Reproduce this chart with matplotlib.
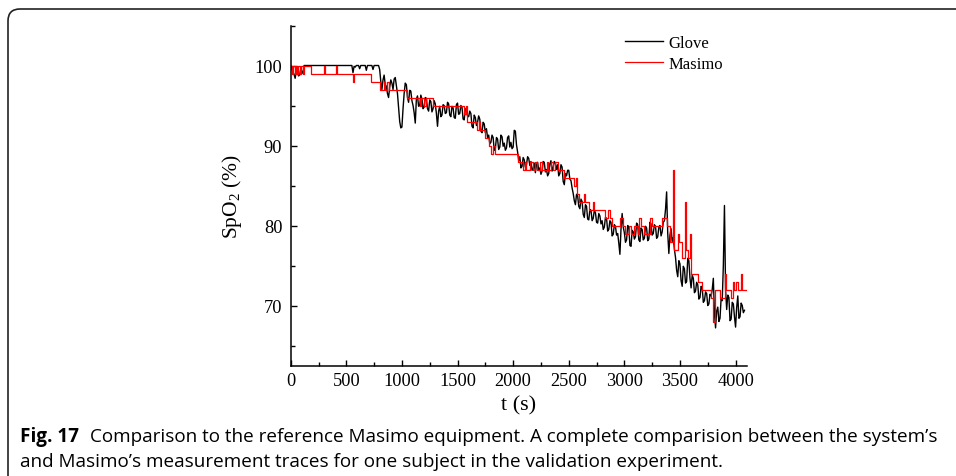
import numpy as np
import matplotlib
matplotlib.use("Agg")
import matplotlib.pyplot as plt
from matplotlib.patches import FancyBboxPatch
from matplotlib.transforms import IdentityTransform

# Glove trace, one reading every 10 s (0 .. 4080 s)
glove_step = 10
glove_spo2 = [
    100, 99.6, 99.2, 98.9, 98.4, 99.3, 99.6, 98.7, 98.8, 99.5, 99.3, 99.0, 100, 100, 100, 100, 100, 100, 100, 100,
    100, 100, 100, 100, 100, 100, 100, 100, 100, 100, 100, 100, 100, 100, 100, 100, 100, 100, 100, 100,
    100, 100, 100, 100, 100, 100, 100, 100, 100, 100, 100, 100, 100, 100, 100, 100, 99.1, 99.9, 99.8, 100,
    100, 100, 99.6, 100, 100, 100, 100, 100, 99.4, 100, 100, 100, 100, 100, 99.5, 100, 100, 100, 100, 100,
    99.5, 98.0, 97.0, 98.2, 98.8, 97.6, 97.4, 96.5, 96.0, 97.3, 98.2, 97.8, 97.0, 98.3, 98.5, 97.5, 96.5, 94.8, 93.0, 92.2,
    92.3, 94.6, 96.5, 97.8, 97.6, 96.0, 95.4, 96.9, 96.8, 95.6, 95.0, 94.1, 92.8, 95.8, 96.2, 94.9, 95.0, 96.3, 95.8, 94.6,
    94.8, 96.0, 95.9, 94.6, 94.3, 95.7, 95.5, 94.2, 94.6, 95.6, 95.2, 94.0, 92.4, 94.3, 94.9, 93.6, 93.8, 95.1, 95.0, 94.0,
    94.1, 95.4, 95.2, 93.8, 93.6, 94.9, 94.7, 93.5, 93.4, 95.1, 95.3, 93.9, 94.0, 95.0, 94.8, 93.3, 93.2, 94.6, 94.5, 93.7,
    93.6, 94.3, 94.0, 92.4, 92.2, 93.8, 93.5, 92.5, 92.9, 93.7, 93.3, 91.8, 91.6, 92.9, 92.7, 91.6, 92.1, 91.0, 91.3, 90.2,
    90.4, 91.3, 91.0, 89.4, 89.6, 91.0, 90.8, 89.5, 89.8, 91.3, 91.1, 89.9, 90.3, 89.4, 89.7, 91.0, 91.2, 89.8, 90.4, 89.6,
    89.8, 91.9, 91.8, 90.1, 89.2, 88.1, 88.6, 87.2, 87.4, 88.5, 88.2, 87.3, 87.6, 88.6, 88.4, 87.5, 88.0, 86.9, 87.1, 87.8,
    86.6, 87.6, 87.9, 86.9, 87.2, 86.4, 86.8, 88.0, 87.9, 86.7, 87.0, 86.2, 86.5, 87.7, 88.1, 86.8, 87.3, 88.0, 87.8, 87.0,
    87.6, 86.2, 86.5, 87.6, 87.3, 85.5, 85.1, 86.5, 86.2, 86.9, 86.9, 85.8, 85.6, 84.7, 84.0, 83.1, 82.6, 83.9, 83.7, 82.4,
    82.1, 83.3, 83.0, 81.4, 81.0, 82.6, 82.4, 80.8, 80.7, 82.0, 81.9, 80.6, 80.9, 81.9, 81.6, 80.4, 80.3, 81.5, 81.2, 80.2,
    80.6, 79.5, 79.8, 81.0, 80.9, 79.3, 79.5, 80.6, 80.4, 78.7, 78.9, 80.1, 79.9, 78.8, 79.0, 77.8, 76.4, 79.6, 81.5, 79.8,
    79.1, 77.9, 78.2, 80.0, 79.8, 77.5, 77.4, 79.4, 79.2, 78.3, 78.6, 80.3, 80.1, 78.2, 78.0, 79.7, 79.5, 78.2, 78.4, 79.9,
    79.7, 78.1, 78.3, 80.4, 80.2, 78.8, 79.0, 80.1, 79.9, 78.4, 78.6, 79.8, 80.0, 78.7, 79.2, 80.4, 80.6, 82.0, 84.2, 79.0,
    76.5, 78.8, 79.6, 78.0, 78.5, 77.0, 76.0, 74.4, 73.6, 75.6, 75.2, 73.1, 72.4, 74.9, 74.6, 72.8, 73.0, 75.9, 75.6, 73.4,
    72.2, 73.8, 73.4, 71.6, 71.8, 72.9, 72.6, 70.8, 71.0, 72.4, 72.2, 70.4, 70.6, 71.7, 71.5, 70.0, 70.2, 71.4, 71.2, 72.0,
    73.4, 69.0, 67.2, 69.3, 69.8, 68.0, 68.4, 70.9, 70.6, 75.0, 82.5, 72.0, 69.5, 71.3, 71.0, 68.1, 68.3, 70.4, 70.2, 68.6,
    67.3, 69.8, 71.2, 68.4, 68.6, 70.3, 70.0, 69.1, 69.4,
]
glove_t = np.arange(len(glove_spo2)) * glove_step

# Masimo trace, value held from each time until the next one
masimo_t = [0, 12, 22, 35, 45, 58, 68, 85, 95, 110, 120, 180, 300, 312, 410, 416,
            558, 566, 718, 800, 835, 850, 870, 885, 1050, 1160, 1175, 1200, 1215, 1280,
            1555, 1575, 1585, 1675, 1690, 1700, 1750, 1780, 1800, 1815, 1840, 2040, 2090,
            2110, 2120, 2150, 2175, 2200, 2215, 2240, 2260, 2300, 2310, 2340, 2355, 2380,
            2400, 2455, 2545, 2565, 2575, 2590, 2640, 2650, 2680, 2715, 2725, 2830, 2855,
            2870, 2890, 2960, 2990, 3010, 3040, 3060, 3090, 3120, 3130, 3150, 3175, 3230,
            3250, 3340, 3385, 3410, 3440, 3450, 3480, 3495, 3520, 3545, 3555, 3575, 3590,
            3600, 3665, 3700, 3775, 3800, 3815, 3860, 3905, 3915, 3960, 3975, 3990, 4000,
            4020, 4045, 4055, 4090]
masimo_spo2 = [100, 99, 100, 99, 100, 99, 100, 99, 100, 99, 100, 99, 100, 99, 100, 99,
               98, 99, 98, 97, 98, 97, 98, 97, 96, 95, 96, 95, 96, 95,
               94, 95, 93, 92, 93, 92, 91, 90, 89, 90, 89, 88, 87,
               88, 87, 88, 87, 88, 87, 88, 87, 88, 87, 88, 87, 88,
               87, 86, 85, 86, 84, 83, 84, 83, 82, 83, 82, 81, 82,
               81, 80, 81, 80, 79, 80, 79, 80, 79, 81, 80, 79, 81,
               80, 81, 80, 78, 87, 77, 79, 78, 76, 83, 77, 76, 79,
               74, 73, 72, 71, 68, 72, 71, 74, 72, 71, 73, 72, 73,
               72, 74, 72, 72]

plt.rcParams["font.family"] = ["Liberation Serif", "DejaVu Serif"]
plt.rcParams["mathtext.fontset"] = "custom"
plt.rcParams["mathtext.rm"] = "Liberation Serif"
plt.rcParams["mathtext.it"] = "Liberation Serif:italic"

W, H = 956, 477
fig = plt.figure(figsize=(W / 100, H / 100), dpi=100)
ax = fig.add_axes([290.7 / W, 1 - 366.5 / H, 456 / W, 340 / H])

ax.plot(glove_t, glove_spo2, color="black", lw=1.0, label="Glove")
ax.plot(masimo_t, masimo_spo2, color="#ff0000", lw=0.9, drawstyle="steps-post", label="Masimo")

ax.set_xlim(0, 4100)
ax.set_ylim(62.5, 105)
ax.set_xticks(np.arange(0, 4001, 500))
ax.set_xticks(np.arange(0, 4101, 250), minor=True)
ax.set_yticks([70, 80, 90, 100])
ax.set_yticks([65, 75, 85, 95, 105], minor=True)
for s in ["top", "right"]:
    ax.spines[s].set_visible(False)
for s in ["left", "bottom"]:
    ax.spines[s].set_linewidth(1.1)
ax.tick_params(which="both", direction="in", width=1.0, labelsize=13.2)
ax.tick_params(which="major", length=4.3)
ax.tick_params(which="minor", length=2.7)
ax.tick_params(axis="x", pad=4.5)
ax.tick_params(axis="y", pad=6.0)
ax.set_xlabel("t (s)", fontsize=16, labelpad=5)
ax.set_ylabel(r"SpO$_2$ (%)", fontsize=15.5, labelpad=8)

ax.legend(frameon=False, fontsize=12, loc="upper left",
          bbox_to_anchor=(625 / W, 1 - 36 / H), bbox_transform=fig.transFigure,
          borderpad=0, borderaxespad=0, handlelength=2.3, handletextpad=0.3,
          labelspacing=0.3)

# frame round the figure and caption
frame = FancyBboxPatch((8, -60), 1100, H - 10 + 60, boxstyle="round,pad=0,rounding_size=12",
                       transform=IdentityTransform(), fill=False, ec="#222222", lw=1.2)
fig.patches.append(frame)

cap_font = ["Open Sans", "DejaVu Sans"]
cap_size = 13.6
t1 = fig.text(20 / W, 1 - 437 / H, "Fig. 17", fontsize=cap_size, fontweight="bold",
              family=cap_font, va="center", ha="left")
r = fig.canvas.get_renderer()
bb = t1.get_window_extent(r)
fig.text((bb.x1 + 11) / W, 1 - 437 / H,
         "Comparison to the reference Masimo equipment. A complete comparision between the system\u2019s",
         fontsize=cap_size, family=cap_font, va="center", ha="left")
fig.text(20 / W, 1 - 462 / H,
         "and Masimo\u2019s measurement traces for one subject in the validation experiment.",
         fontsize=cap_size, family=cap_font, va="center", ha="left")

fig.savefig("out.png", dpi=100)
